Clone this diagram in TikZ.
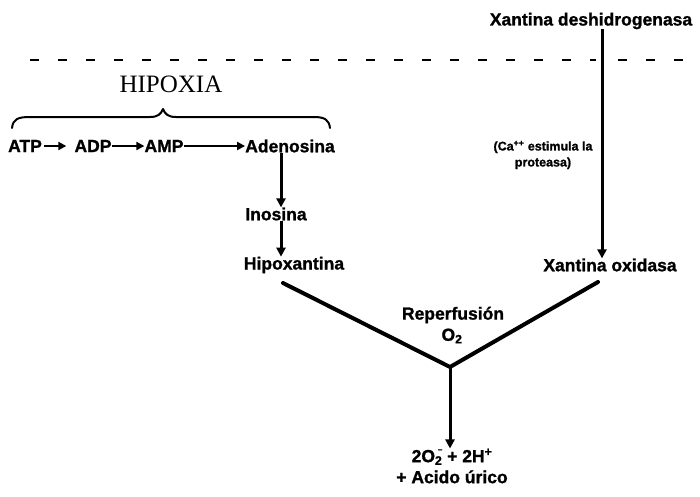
\documentclass[tikz,border=0pt]{standalone}
\usepackage{fontspec}
\setmainfont{Liberation Sans}[BoldFeatures={FakeBold=1.2}]
\newfontfamily\titlefont{Liberation Serif}
\usetikzlibrary{arrows.meta}
\tikzset{
  lbl/.style={inner sep=0pt, font=\fontsize{17.5}{19}\selectfont\bfseries},
  small/.style={inner sep=0pt, align=center, font=\fontsize{12.5}{16}\selectfont\bfseries},
  arr/.style={line width=3pt, -{Triangle[length=9pt,width=9pt]}},
  harr/.style={line width=2.6pt, -{Triangle[length=8pt,width=8pt]}},
  vline/.style={line width=4pt, line cap=round},
}
\begin{document}
\begin{tikzpicture}[x=1pt,y=-1pt]
\useasboundingbox (0,0) rectangle (700,496);

% separator and enzyme at the top
\draw[line width=1.4pt, dash pattern=on 9pt off 19pt] (30,60) -- (690,60);
\node[lbl] (xd) at (591,21) {Xantina deshidrogenasa};
\node[lbl] (xo) at (610,265) {Xantina oxidasa};
\node[small] (ca) at (543,155) {(Ca\textsuperscript{++} estimula la\\proteasa)};
\fill[white] (596,50) rectangle (608,70);
\draw[arr] (xd.south -| 602,0) -- (xo.north -| 602,0);

% hypoxia branch
\node[inner sep=0pt, font=\fontsize{25}{28}\selectfont\titlefont] (hip) at (171,84) {HIPOXIA};
\draw[line width=2pt, line cap=round, line join=round]
  (12,128) .. controls (13,119) and (18,117) .. (30,117)
  -- (150,117) .. controls (158,117) and (161,114) .. (163,109)
  .. controls (165,114) and (168,117) .. (176,117)
  -- (314,117) .. controls (325,117) and (329,120) .. (330,128);

\node[lbl] (atp) at (25,146) {ATP};
\node[lbl] (adp) at (93,146) {ADP};
\node[lbl] (amp) at (164,146) {AMP};
\node[lbl] (aden) at (290,146) {Adenosina};
\draw[harr] (atp.east) ++(2,0) -- ([xshift=-8pt]adp.west);
\draw[harr] (adp.east) -- (amp.west);
\draw[harr] (amp.east) -- (aden.west);

\node[lbl] (ino) at (276,214) {Inosina};
\node[lbl] (hipo) at (294,265) {Hipoxantina};
\draw[arr] (aden.south -| 281,0) -- (ino.north -| 281,0);
\draw[arr] (ino.south -| 281,0) -- (hipo.north -| 281,0);

% reperfusion
\coordinate (vl) at (283,283);
\coordinate (vr) at (598,282);
\coordinate (v) at (450,367);
\draw[vline, line join=miter, line cap=round] (vl) -- (v) -- (vr);
\node[lbl] (rep) at (453,315) {Reperfusión};
\node[lbl] (o2) at (452,336) {O\textsubscript{2}};
\node[lbl, align=center] (prod) at (452,466) {2O\textsubscript{2}\llap{\raisebox{1.1ex}{\footnotesize\textbf{--}}} + 2H\textsuperscript{+}\\[2pt]+ Acido úrico};
\draw[arr] (v) -- (prod.north -| v);
\end{tikzpicture}
\end{document}
